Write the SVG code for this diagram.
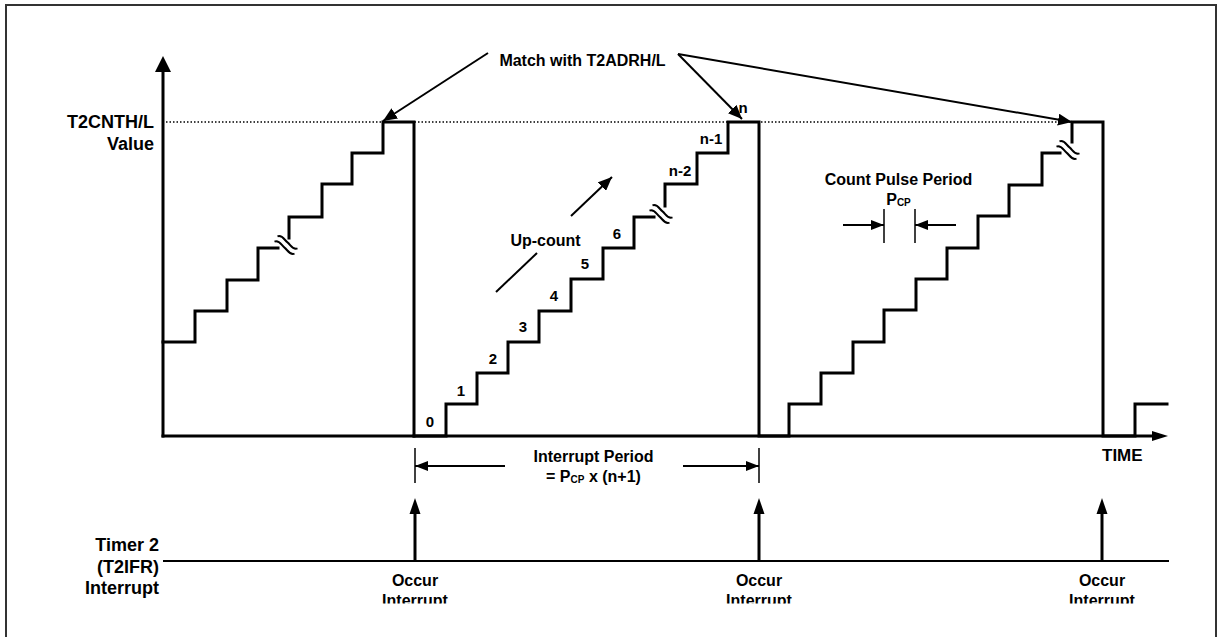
<svg xmlns="http://www.w3.org/2000/svg" xmlns:xlink="http://www.w3.org/1999/xlink" width="1221" height="637" viewBox="0 0 1221 637">
<style>
.t{font-family:"Liberation Sans",Arial,sans-serif;font-weight:bold;fill:#000}
.l18{font-size:18px}
.l16{font-size:16px}
.l15{font-size:15px}
.l17{font-size:17px}
.w{fill:none;stroke:#000;stroke-width:3;stroke-linejoin:miter;stroke-linecap:square}
.thin{fill:none;stroke:#000;stroke-width:2}
.tick{fill:none;stroke:#000;stroke-width:1.5}
.brk{fill:none;stroke:#000;stroke-width:2}
</style>
<defs>
<marker id="ah" viewBox="0 0 14 12" refX="14" refY="6" markerWidth="14" markerHeight="12" markerUnits="userSpaceOnUse" orient="auto">
<path d="M0,0 L14,6 L0,12 z" fill="#000"/>
</marker>
<marker id="ahs" viewBox="0 0 13 10" refX="13" refY="5" markerWidth="13" markerHeight="10" markerUnits="userSpaceOnUse" orient="auto">
<path d="M0,0 L13,5 L0,10 z" fill="#000"/>
</marker>
<g id="brk">
<path class="brk" d="M-8.5,-8.6 C-3.5,-10.6 -1.5,-4.6 1.5,-2.6 S6.5,5.4 11.5,3.4"/>
<path class="brk" d="M-11.5,-3.4 C-6.5,-5.4 -4.5,0.6 -1.5,2.6 S3.5,10.6 8.5,8.6"/>
</g>
<clipPath id="cut"><rect x="0" y="0" width="1221" height="603.5"/></clipPath>
</defs>
<rect x="0" y="0" width="1221" height="637" fill="#fff"/>
<rect id="frame" x="6" y="5" width="1210" height="640" fill="none" stroke="#333" stroke-width="2"/>

<g id="axes">
<path class="w" d="M163,436 V70" stroke-linecap="butt"/>
<polygon points="163,56 155,72 171,72" fill="#000"/>
<path class="w" d="M163,436 H1153" stroke-linecap="butt"/>
<polygon points="1168,436 1152,431 1152,441" fill="#000"/>
<line x1="166" y1="122" x2="1072" y2="122" stroke="#000" stroke-width="1.5" stroke-dasharray="1.5 2"/>
</g>

<g id="waveform">
<path class="w" d="M163,342 H195 V311 H227 V280 H258 V248 H278"/>
<path class="w" d="M289,238 V217 H322 V184 H352 V153 H383 V122 H414 V436"/>
<path class="w" d="M414,436 H446 V404 H477 V373 H508 V342 H539 V311 H571 V279 H603 V248 H634 V217 H654"/>
<path class="w" d="M665,206 V184 H697 V153 H728 V122 H759 V436 H789 V404 H821 V373 H853 V342 H884 V310 H916 V279 H947 V248 H978 V216 H1009 V185 H1042 V153 H1060"/>
<path class="w" d="M1072,142 V122 H1103 V436 H1135 V404 H1167" />
<use xlink:href="#brk" href="#brk" transform="translate(286,245)"/>
<use xlink:href="#brk" href="#brk" transform="translate(661,214)"/>
<use xlink:href="#brk" href="#brk" transform="translate(1068,150)"/>
</g>

<g id="axis-labels">
<text class="t l18" x="154" y="128" text-anchor="end">T2CNTH/L</text>
<text class="t l18" x="154" y="150" text-anchor="end">Value</text>
<text class="t l17" x="1102" y="461">TIME</text>
</g>

<g id="step-labels">
<text class="t l15" x="430" y="427" text-anchor="middle">0</text>
<text class="t l15" x="461" y="396" text-anchor="middle">1</text>
<text class="t l15" x="493" y="364" text-anchor="middle">2</text>
<text class="t l15" x="523" y="332" text-anchor="middle">3</text>
<text class="t l15" x="554" y="301" text-anchor="middle">4</text>
<text class="t l15" x="585" y="269" text-anchor="middle">5</text>
<text class="t l15" x="617" y="239" text-anchor="middle">6</text>
<text class="t l15" x="680" y="176" text-anchor="middle">n-2</text>
<text class="t l15" x="711" y="144" text-anchor="middle">n-1</text>
<text class="t l15" x="743" y="113" text-anchor="middle">n</text>
</g>

<g id="match-label">
<text class="t l16" x="582.5" y="66" text-anchor="middle">Match with T2ADRH/L</text>
</g>

<g id="upcount">
<text class="t l16" x="545.5" y="246" text-anchor="middle">Up-count</text>
</g>

<g id="count-pulse">
<text class="t l16" x="898.5" y="185" text-anchor="middle">Count Pulse Period</text>
<text class="t l16" x="898.5" y="205" text-anchor="middle">P<tspan font-size="10" dy="1">CP</tspan></text>
</g>

<g id="interrupt-period">
<text class="t l16" x="593.5" y="462" text-anchor="middle">Interrupt Period</text>
<text class="t l16" x="593.5" y="482" text-anchor="middle">= P<tspan font-size="10" dy="1">CP</tspan><tspan dy="-1"> x (n+1)</tspan></text>
</g>

<g id="timer-label">
<text class="t l18" x="159" y="551" text-anchor="end">Timer 2</text>
<text class="t l18" x="159" y="573" text-anchor="end">(T2IFR)</text>
<text class="t l18" x="159" y="594" text-anchor="end">Interrupt</text>
</g>

<g id="occur-labels" clip-path="url(#cut)">
<text class="t l16" x="415" y="586" text-anchor="middle">Occur</text>
<text class="t l16" x="415" y="605.5" text-anchor="middle">Interrupt</text>
<text class="t l16" x="759" y="586" text-anchor="middle">Occur</text>
<text class="t l16" x="759" y="605.5" text-anchor="middle">Interrupt</text>
<text class="t l16" x="1102" y="586" text-anchor="middle">Occur</text>
<text class="t l16" x="1102" y="605.5" text-anchor="middle">Interrupt</text>
</g>

<g id="connectors">
<line class="thin" x1="488" y1="53" x2="383" y2="121" marker-end="url(#ah)"/>
<line class="thin" x1="678" y1="54" x2="742" y2="119" marker-end="url(#ah)"/>
<line class="thin" x1="678" y1="54" x2="1072" y2="122" marker-end="url(#ah)"/>
<line class="thin" x1="496" y1="292" x2="537" y2="253"/>
<line class="thin" x1="571" y1="216" x2="612" y2="177" marker-end="url(#ah)"/>
<line class="tick" x1="884" y1="209" x2="884" y2="243"/>
<line class="tick" x1="915" y1="209" x2="915" y2="243"/>
<line class="thin" x1="843" y1="225" x2="884" y2="225" marker-end="url(#ahs)"/>
<line class="thin" x1="956" y1="225" x2="915" y2="225" marker-end="url(#ahs)"/>
<line class="tick" x1="415" y1="448" x2="415" y2="483"/>
<line class="tick" x1="759" y1="448" x2="759" y2="483"/>
<line class="thin" x1="505" y1="466" x2="415" y2="466" marker-end="url(#ahs)"/>
<line class="thin" x1="683" y1="466" x2="759" y2="466" marker-end="url(#ahs)"/>
<line x1="163" y1="561" x2="1169" y2="561" stroke="#000" stroke-width="2"/>
<line x1="415" y1="561" x2="415" y2="512" stroke="#000" stroke-width="3"/>
<polygon points="415,498 409.5,514 420.5,514" fill="#000"/>
<line x1="759" y1="561" x2="759" y2="512" stroke="#000" stroke-width="3"/>
<polygon points="759,498 753.5,514 764.5,514" fill="#000"/>
<line x1="1102" y1="561" x2="1102" y2="512" stroke="#000" stroke-width="3"/>
<polygon points="1102,498 1096.5,514 1107.5,514" fill="#000"/>
</g>
</svg>
